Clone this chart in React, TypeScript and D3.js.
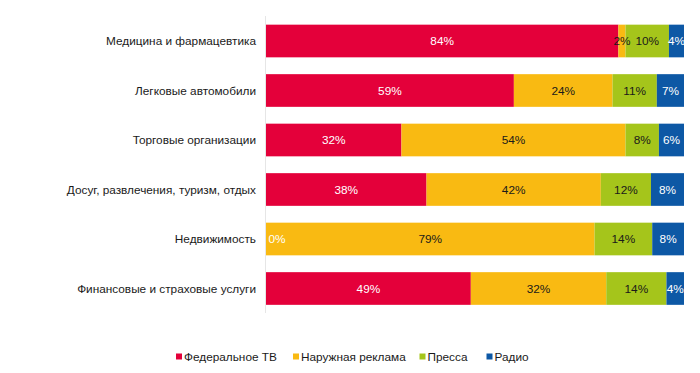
import * as d3 from "d3";
import React, { useEffect, useRef } from "react";

// Categories (top to bottom)
const categories = [
  "Медицина и фармацевтика",
  "Легковые автомобили",
  "Торговые организации",
  "Досуг, развлечения, туризм, отдых",
  "Недвижимость",
  "Финансовые и страховые услуги",
];

// Series names and shares (%)
const seriesNames = ["Федеральное ТВ", "Наружная реклама", "Пресса", "Радио"];
const federalTV = [84.3, 59.3, 32.4, 38.4, 0, 49.0];
const outdoor = [1.7, 23.6, 53.6, 41.7, 78.6, 32.4];
const press = [10.4, 10.6, 8.0, 12.0, 13.8, 14.4];
const radio = [3.6, 6.5, 6.0, 7.9, 7.6, 4.2];

const colors = ["#E4003A", "#F9BA12", "#A5C51B", "#0D58A5"];
const labelColors = ["#ffffff", "#1a1a1a", "#1a1a1a", "#ffffff"];

const App = () => {
  const svgRef = useRef<SVGSVGElement>(null);

  useEffect(() => {
    const width = 700;
    const height = 373;
    const font = "Liberation Sans, Arial, sans-serif";
    const fs = 11.8;

    const svg = d3.select(svgRef.current).attr("width", width).attr("height", height);
    svg.selectAll("*").remove();

    // frame (left and bottom edge visible)
    svg.append("line").attr("x1", 0.5).attr("x2", 0.5).attr("y1", 0).attr("y2", 371.5)
      .attr("stroke", "#c0c0c0").attr("stroke-width", 1);
    svg.append("line").attr("x1", 0).attr("x2", width).attr("y1", 371.5).attr("y2", 371.5)
      .attr("stroke", "#c0c0c0").attr("stroke-width", 1);

    const rows = categories.map((c, i) => ({
      cat: c,
      s0: federalTV[i],
      s1: outdoor[i],
      s2: press[i],
      s3: radio[i],
    }));

    const stack = d3.stack<any>().keys(["s0", "s1", "s2", "s3"]).offset(d3.stackOffsetExpand);
    const layers = stack(rows);

    const x = d3.scaleLinear().domain([0, 1]).range([266, 684]);
    const y = d3.scaleBand().domain(categories).range([16.25, 313.25]).paddingInner(0.34).paddingOuter(0.17);

    // axis line
    svg.append("line").attr("x1", 265.5).attr("x2", 265.5).attr("y1", 16).attr("y2", 313)
      .attr("stroke", "#e6e6e6");

    // bars first
    const g = svg.append("g");
    layers.forEach((layer, si) => {
      g.append("g")
        .selectAll("rect")
        .data(layer)
        .join("rect")
        .attr("x", (d) => x(d[0]))
        .attr("y", (d) => y(d.data.cat)!)
        .attr("width", (d) => x(d[1]) - x(d[0]))
        .attr("height", y.bandwidth())
        .attr("fill", colors[si]);
    });

    // then value labels on top
    const lbl = svg.append("g");
    layers.forEach((layer, si) => {
      lbl.append("g")
        .selectAll("text")
        .data(layer)
        .join("text")
        .attr("x", (d) => {
          const w = x(d[1]) - x(d[0]);
          return w < 4 ? x(d[0]) + 11 : (x(d[0]) + x(d[1])) / 2;
        })
        .attr("y", (d) => y(d.data.cat)! + y.bandwidth() / 2)
        .attr("dy", "0.35em")
        .attr("text-anchor", "middle")
        .attr("font-family", font)
        .attr("font-size", fs)
        .attr("fill", labelColors[si])
        .text((d) => Math.round(d.data["s" + si]) + "%");
    });

    // category labels
    svg.append("g")
      .selectAll("text")
      .data(categories)
      .join("text")
      .attr("x", 256)
      .attr("y", (d) => y(d)! + y.bandwidth() / 2)
      .attr("dy", "0.35em")
      .attr("text-anchor", "end")
      .attr("font-family", font)
      .attr("font-size", fs)
      .attr("fill", "#1a1a1a")
      .text((d) => d);

    // legend
    const legendX = [176, 293, 419.5, 486.5];
    const leg = svg.append("g");
    seriesNames.forEach((name, i) => {
      leg.append("rect").attr("x", legendX[i]).attr("y", 353.5).attr("width", 6).attr("height", 6)
        .attr("fill", colors[i]);
      leg.append("text").attr("x", legendX[i] + 8).attr("y", 356.7).attr("dy", "0.35em")
        .attr("font-family", font).attr("font-size", fs).attr("fill", "#1a1a1a").text(name);
    });
  }, []);

  return (
    <div style={{ margin: -8 }}>
      <svg ref={svgRef} style={{ display: "block" }}></svg>
    </div>
  );
};

export default App;
